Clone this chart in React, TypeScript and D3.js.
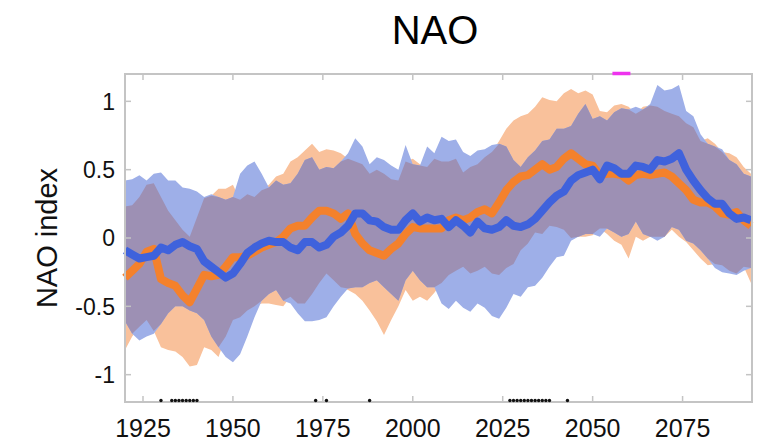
import React from 'react';
import * as d3 from 'd3';

// years sampled every 2 years, 1920..2094
const years = d3.range(1920, 2095, 2);

const orangeMean = [
  -0.29, -0.24, -0.19, -0.10, -0.08, -0.30, -0.33, -0.35, -0.42, -0.47, -0.37, -0.27, -0.28, -0.27, -0.21, -0.14, -0.14, -0.13, -0.10, -0.07, -0.05, -0.03,
  0.01, 0.07, 0.09, 0.09, 0.15, 0.20, 0.20, 0.18, 0.14, 0.18, 0.03, -0.04, -0.09, -0.11, -0.13, -0.08, -0.04, 0.03, 0.08, 0.07, 0.07,
  0.07, 0.07, 0.13, 0.15, 0.13, 0.15, 0.19, 0.21, 0.18, 0.26, 0.35, 0.41, 0.45, 0.46, 0.50, 0.54, 0.50, 0.52, 0.58, 0.62, 0.58, 0.54, 0.53,
  0.46, 0.47, 0.47, 0.46, 0.42, 0.46, 0.47, 0.46, 0.47, 0.48, 0.45, 0.40, 0.35, 0.28, 0.26, 0.26, 0.23, 0.18, 0.17, 0.19, 0.13, 0.09,
];
const orangeUpper = [
  0.23, 0.24, 0.30, 0.39, 0.40, 0.30, 0.20, 0.13, 0.06, 0.01, 0.15, 0.29, 0.31, 0.36, 0.36, 0.39, 0.28, 0.32, 0.30, 0.35, 0.39, 0.45,
  0.47, 0.56, 0.59, 0.64, 0.69, 0.63, 0.65, 0.64, 0.62, 0.58, 0.56, 0.54, 0.47, 0.50, 0.47, 0.43, 0.42, 0.56, 0.58, 0.54, 0.52,
  0.58, 0.56, 0.56, 0.58, 0.48, 0.52, 0.54, 0.59, 0.63, 0.71, 0.80, 0.86, 0.89, 0.91, 0.96, 1.03, 1.01, 1.00, 1.06, 1.09, 1.06, 1.08, 1.05,
  0.93, 0.92, 0.97, 0.98, 0.96, 0.91, 0.96, 0.97, 0.96, 0.93, 0.91, 0.89, 0.84, 0.81, 0.71, 0.73, 0.69, 0.63, 0.62, 0.59, 0.52, 0.47,
];
const orangeLower = [
  -0.82, -0.72, -0.65, -0.60, -0.68, -0.80, -0.82, -0.83, -0.87, -0.94, -0.93, -0.80, -0.82, -0.87, -0.72, -0.60, -0.58, -0.53, -0.50, -0.48, -0.48, -0.49,
  -0.50, -0.43, -0.48, -0.48, -0.41, -0.33, -0.26, -0.31, -0.36, -0.38, -0.41, -0.46, -0.53, -0.61, -0.71, -0.60, -0.50, -0.38, -0.46, -0.43, -0.46,
  -0.40, -0.33, -0.27, -0.24, -0.21, -0.26, -0.24, -0.21, -0.26, -0.27, -0.22, -0.19, -0.09, -0.04, 0.04, 0.03, 0.09, 0.08, 0.06, 0.00, 0.01, 0.01, 0.02,
  0.07, 0.03, -0.02, -0.05, -0.15, 0.01, -0.02, 0.01, 0.01, 0.01, 0.06, 0.01, -0.03, -0.09, -0.15, -0.20, -0.19, -0.20, -0.24, -0.26, -0.21, -0.33,
];

const blueMean = [
  -0.09, -0.12, -0.15, -0.14, -0.13, -0.07, -0.09, -0.05, -0.03, -0.06, -0.08, -0.17, -0.21, -0.25, -0.29, -0.26, -0.19, -0.11, -0.07, -0.04, -0.02, -0.03,
  -0.03, -0.07, -0.09, -0.03, -0.03, -0.07, -0.05, 0.01, 0.04, 0.09, 0.18, 0.18, 0.13, 0.12, 0.08, 0.06, 0.06, 0.13, 0.18, 0.12, 0.15,
  0.13, 0.14, 0.08, 0.13, 0.09, 0.04, 0.12, 0.07, 0.06, 0.08, 0.13, 0.09, 0.08, 0.10, 0.14, 0.20, 0.26, 0.31, 0.34, 0.42, 0.46, 0.48, 0.50,
  0.43, 0.53, 0.51, 0.47, 0.47, 0.53, 0.52, 0.50, 0.57, 0.56, 0.58, 0.62, 0.50, 0.42, 0.35, 0.29, 0.25, 0.25, 0.18, 0.14, 0.15, 0.13,
];
const blueUpper = [
  0.42, 0.43, 0.46, 0.42, 0.47, 0.48, 0.42, 0.42, 0.37, 0.36, 0.34, 0.30, 0.32, 0.30, 0.28, 0.30, 0.47, 0.53, 0.56, 0.47, 0.37, 0.42,
  0.39, 0.40, 0.47, 0.57, 0.59, 0.50, 0.52, 0.51, 0.56, 0.62, 0.73, 0.67, 0.54, 0.59, 0.57, 0.53, 0.50, 0.68, 0.54, 0.53, 0.67,
  0.62, 0.74, 0.71, 0.72, 0.63, 0.60, 0.64, 0.65, 0.68, 0.69, 0.67, 0.57, 0.52, 0.59, 0.64, 0.71, 0.72, 0.80, 0.80, 0.82, 0.91, 0.98, 0.87,
  0.89, 0.86, 0.92, 0.95, 0.94, 0.96, 0.94, 0.98, 1.12, 1.08, 1.09, 1.12, 0.93, 0.89, 0.76, 0.69, 0.67, 0.65, 0.57, 0.54, 0.47, 0.45,
];
const blueLower = [
  -0.61, -0.70, -0.75, -0.72, -0.70, -0.63, -0.55, -0.50, -0.50, -0.53, -0.55, -0.60, -0.72, -0.80, -0.87, -0.91, -0.85, -0.72, -0.58, -0.46, -0.41, -0.38,
  -0.46, -0.48, -0.55, -0.61, -0.61, -0.60, -0.58, -0.50, -0.43, -0.37, -0.36, -0.36, -0.33, -0.31, -0.36, -0.41, -0.46, -0.31, -0.24, -0.31, -0.36,
  -0.36, -0.48, -0.52, -0.46, -0.51, -0.54, -0.48, -0.51, -0.57, -0.59, -0.51, -0.41, -0.43, -0.36, -0.35, -0.29, -0.21, -0.14, -0.13, -0.02, 0.01, 0.03, 0.03,
  0.01, 0.07, 0.04, 0.01, 0.03, 0.12, 0.03, 0.01, -0.02, 0.01, 0.08, 0.06, -0.02, -0.04, -0.09, -0.15, -0.22, -0.25, -0.26, -0.27, -0.24, -0.22,
];

// significance markers along the bottom
const sigYears = [1930, 1933, 1934, 1935, 1936, 1937, 1938, 1939, 1940, 1973, 1976, 1988,
  2027, 2028, 2029, 2030, 2031, 2032, 2033, 2034, 2035, 2036, 2037, 2038, 2043];
// magenta marker at top
const markYears = [2055.5, 2060.5];

const xTicks = [1925, 1950, 1975, 2000, 2025, 2050, 2075];
const yTicks = [-1, -0.5, 0, 0.5, 1];

const W = 771;
const H = 442;
const left = 125, right = 752, top = 74, bottom = 402;

export default function App() {
  const x = d3.scaleLinear().domain([1920, 2094.3]).range([left, right]);
  const y = d3.scaleLinear().domain([-1.2, 1.2]).range([bottom, top]);

  const rows = years.map((yr, i) => ({
    yr,
    om: orangeMean[i], ou: orangeUpper[i], ol: orangeLower[i],
    bm: blueMean[i], bu: blueUpper[i], bl: blueLower[i],
  }));
  type R = typeof rows[number];

  const band = (lo: (d: R) => number, hi: (d: R) => number) =>
    d3.area<R>().x((d) => x(d.yr)).y0((d) => y(lo(d))).y1((d) => y(hi(d)))(rows) || '';

  // region where both ensembles overlap gets the mixed colour
  const overlap = d3.area<R>()
    .defined((d) => Math.min(d.ou, d.bu) > Math.max(d.ol, d.bl))
    .x((d) => x(d.yr))
    .y0((d) => y(Math.max(d.ol, d.bl)))
    .y1((d) => y(Math.min(d.ou, d.bu)))(rows) || '';

  const line = (f: (d: R) => number) =>
    d3.line<R>().x((d) => x(d.yr)).y((d) => y(f(d)))(rows) || '';

  const frame = '#c4c4c4';
  const font = '"Liberation Sans", Arial, sans-serif';

  return (
    <svg width={W} height={H} style={{ position: 'absolute', left: 0, top: 0, background: '#fff' }}>
      <text x={435} y={44} textAnchor="middle" fontFamily={font} fontSize={40} fill="#000">NAO</text>

      <path d={band((d) => d.ol, (d) => d.ou)} fill="#f9c19b" />
      <path d={band((d) => d.bl, (d) => d.bu)} fill="#9eafe8" />
      <path d={overlap} fill="#9d90b4" />

      <path d={line((d) => d.om)} fill="none" stroke="#f4812c" strokeWidth={8} strokeLinejoin="round" />
      <path d={line((d) => d.bm)} fill="none" stroke="#3f62dc" strokeWidth={8} strokeLinejoin="round" />

      <rect x={left} y={top} width={right - left} height={bottom - top} fill="none" stroke={frame} strokeWidth={2} />
      {xTicks.map((t) => (
        <g key={t}>
          <line x1={x(t)} x2={x(t)} y1={top} y2={top + 6} stroke={frame} strokeWidth={1.5} />
          <line x1={x(t)} x2={x(t)} y1={bottom} y2={bottom - 6} stroke={frame} strokeWidth={1.5} />
          <text x={x(t)} y={437} textAnchor="middle" fontFamily={font} fontSize={25} fill="#111">{t}</text>
        </g>
      ))}
      {yTicks.map((t) => (
        <g key={t}>
          <line x1={left} x2={left + 6} y1={y(t)} y2={y(t)} stroke={frame} strokeWidth={1.5} />
          <line x1={right} x2={right - 6} y1={y(t)} y2={y(t)} stroke={frame} strokeWidth={1.5} />
          <text x={115} y={y(t)} dy="0.36em" textAnchor="end" fontFamily={font} fontSize={23} fill="#111">{t}</text>
        </g>
      ))}

      {sigYears.map((s) => (
        <circle key={s} cx={x(s)} cy={bottom - 1.5} r={1.7} fill="#111" />
      ))}
      <line x1={x(markYears[0])} x2={x(markYears[1])} y1={top - 0.5} y2={top - 0.5} stroke="#ee33ee" strokeWidth={3.5} />

      <text transform={`translate(57, ${y(0)}) rotate(-90)`} textAnchor="middle" fontFamily={font} fontSize={29} fill="#111">NAO index</text>
    </svg>
  );
}
